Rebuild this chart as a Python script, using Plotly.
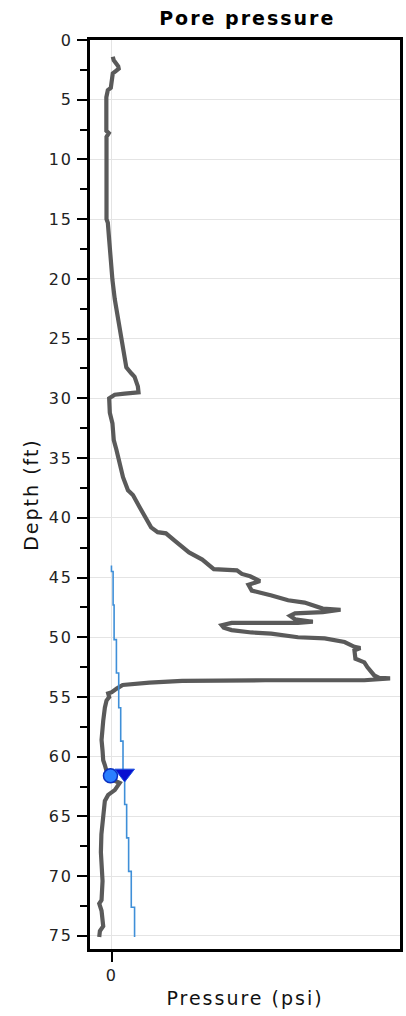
import plotly.graph_objects as go

# Pore pressure profile (gray) : depth (ft) and pressure (psi)
pore_depth = [1.4, 1.7, 2.2, 2.4, 2.6, 2.8, 4.0, 4.2, 4.8, 7.6, 7.8, 8.1, 15.0, 15.3, 16.7, 18.4,
              20.1, 21.7, 23.4, 24.5, 26.2, 27.4, 27.9, 28.2, 29.0, 29.5, 29.6, 29.7, 30.0, 31.2,
              32.1, 33.5, 34.3, 35.4, 36.6, 37.7, 38.1, 39.1, 40.0, 40.8, 41.2, 41.3, 42.0, 42.7,
              42.9, 43.5, 44.3, 44.4, 44.7, 44.9, 45.3, 45.6, 46.1, 46.5, 46.9, 47.1, 47.4, 47.6,
              47.7, 47.9, 48.0, 48.2, 48.5, 48.6, 48.7, 48.8, 48.8, 49.0, 49.2, 49.4, 49.6, 49.7,
              50.0, 50.1, 50.4, 50.8, 50.9, 51.1, 51.8, 52.1, 52.5, 53.2, 53.4, 53.45, 53.6, 53.6,
              53.65, 53.8, 53.9, 54.0, 54.3, 54.6, 54.7, 55.0, 55.3, 55.9, 57.0, 58.0, 58.6, 59.5,
              60.3, 60.7, 61.1, 61.6, 61.9, 62.2, 62.8, 63.2, 63.7, 64.5, 65.5, 66.5, 68.0, 69.0,
              70.4, 72.0, 72.3, 72.9, 73.5, 74.2, 74.6, 75.1]
pore_psi = [0.5, 1.1, 3.8, 4.1, 2.3, 0.5, -0.7, -2.5, -3.4, -3.4, -1.9, -3.3, -3.3, -2.5, -1.7, -0.9,
            0.3, 1.7, 3.7, 5.1, 6.7, 8.7, 11.7, 13.7, 15.7, 16.1, 7.7, 1.7, -1.7, -1.3,
            0.3, 1.1, 2.7, 4.7, 6.7, 9.7, 12.7, 16.7, 20.7, 23.7, 27.7, 32.7, 38.7, 44.7,
            46.7, 54.7, 61.7, 75.7, 78.7, 83.7, 89.7, 82.7, 84.7, 96.7, 106.7, 116.7, 122.7, 127.7,
            138.5, 127.7, 110.9, 107.9, 110.9, 120.5, 121.7, 112.7, 72.5, 66.5, 67.7, 72.5, 84.5, 96.5,
            112.7, 128.9, 140.9, 146.9, 150.5, 146.9, 147.5, 152.9, 154.7, 158.9, 161.9, 168.5, 152.9, 92.9,
            42.5, 22.7, 10.7, 6.5, 2.9, -0.1, -2.3, -1.7, -3.3, -4.3, -5.3, -5.7, -6.3, -5.7,
            -5.3, -4.3, -3.3, -2.5, -0.1, 4.7, 1.7, -2.3, -4.3, -4.9, -5.5, -6.4, -6.7, -6.1,
            -5.7, -6.3, -7.7, -6.3, -5.7, -5.3, -7.3, -7.7]

# Hydrostatic (blue step line)
hydro_depth = [44.0, 44.5, 47.3, 50.2, 53.0, 55.9, 58.7, 61.2, 64.0, 66.8, 69.6, 72.6, 75.1]
hydro_psi = [-0.3, 0.7, 1.3, 2.7, 4.1, 5.3, 6.7, 7.7, 8.9, 10.1, 11.7, 13.7, 13.7]

# Markers
circle_psi, circle_depth = [-0.9], [61.6]
tri_psi, tri_depth = [7.7], [61.4]

x_ticks = [0]
y_ticks = [0, 5, 10, 15, 20, 25, 30, 35, 40, 45, 50, 55, 60, 65, 70, 75]

FONT = "DejaVu Sans"

fig = go.Figure()
fig.add_trace(go.Scatter(x=pore_psi, y=pore_depth, mode="lines",
                         line=dict(color="#5a5a5a", width=4.2), showlegend=False))
fig.add_trace(go.Scatter(x=hydro_psi, y=hydro_depth, mode="lines",
                         line=dict(color="#3f8fd8", width=1.6, shape="vh"), showlegend=False))
fig.add_trace(go.Scatter(x=circle_psi, y=circle_depth, mode="markers",
                         marker=dict(symbol="circle", size=14, color="#2a7fff",
                                     line=dict(color="#0a2fc0", width=1.5)), showlegend=False))
fig.add_trace(go.Scatter(x=tri_psi, y=tri_depth, mode="markers",
                         marker=dict(symbol="triangle-down", size=17, color="#0a10d0",
                                     line=dict(color="#1a50e0", width=1)), showlegend=False))

fig.update_layout(
    width=406, height=1016,
    margin=dict(l=90, r=3, t=40, b=67),
    paper_bgcolor="white", plot_bgcolor="white",
    font=dict(family=FONT, color="#111"),
    title=dict(text="<b>Pore pressure</b>", x=0.609, xanchor="center", y=0.982, yanchor="middle",
               font=dict(family=FONT, size=19, color="black")),
    xaxis=dict(range=[-13.3, 174.5], tickvals=x_ticks, ticks="outside", ticklen=10, tickwidth=2,
               tickcolor="black", showgrid=True, gridcolor="#e4e4e4", gridwidth=1,
               showline=True, linecolor="black", linewidth=2.5, mirror=True, zeroline=False,
               tickfont=dict(size=16, color="#222"),
               title=dict(text="Pressure (psi)", font=dict(size=19, color="#111"), standoff=8)),
    yaxis=dict(range=[76.1, 0], tickvals=y_ticks, ticks="outside", ticklen=10, tickwidth=2,
               tickcolor="black", showgrid=True, gridcolor="#e4e4e4", gridwidth=1,
               showline=True, linecolor="black", linewidth=2.5, mirror=True, zeroline=False,
               minor=dict(dtick=2.5, tick0=0, ticks="outside", ticklen=7, tickwidth=2,
                          tickcolor="black", showgrid=False),
               tickfont=dict(size=16, color="#222"), ticklabelstandoff=1,
               title=dict(text="Depth (ft)", font=dict(size=19, color="#111"), standoff=10)),
)

# widen the letter spacing of all texts, as in the reference rendering
post = ("document.querySelectorAll('.xtick text, .ytick text').forEach(function(t){t.style.letterSpacing='2px';});"
        "document.querySelectorAll('.gtitle, .xtitle, .ytitle').forEach(function(t){t.style.letterSpacing='2px';});")

fig.write_html("out.html", post_script=post)
